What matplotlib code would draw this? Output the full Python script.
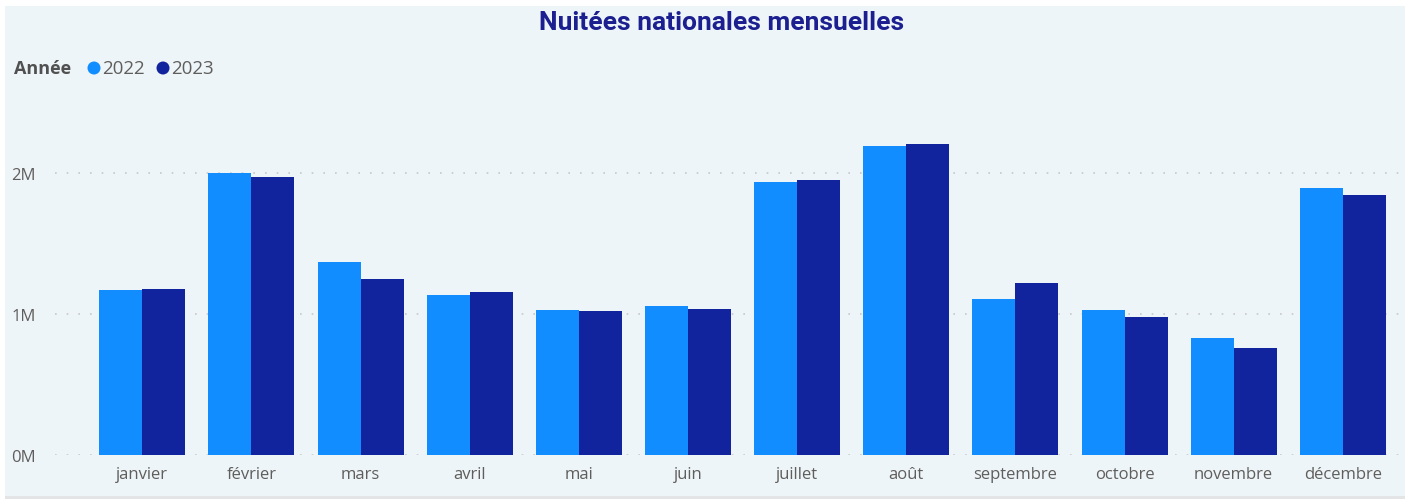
import matplotlib.pyplot as plt
import matplotlib.patches as patches
import numpy as np

mois = ['janvier', 'février', 'mars', 'avril', 'mai', 'juin', 'juillet',
        'août', 'septembre', 'octobre', 'novembre', 'décembre']
nuitees_2022 = [1.166, 2.00, 1.369, 1.133, 1.027, 1.054, 1.936, 2.190, 1.103, 1.025, 0.829, 1.887]
nuitees_2023 = [1.176, 1.965, 1.246, 1.156, 1.022, 1.033, 1.948, 2.201, 1.221, 0.980, 0.754, 1.840]
annees = ['2022', '2023']
couleurs = ['#118DFF', '#12239E']

fig = plt.figure(figsize=(14.08, 5.02), dpi=100)
fig.patch.set_facecolor('white')
fond = patches.Rectangle((5 / 1408, 5 / 502), 1400 / 1408, 490 / 502,
                         transform=fig.transFigure, facecolor='#EDF5F8',
                         edgecolor='none', zorder=-2)
fig.patches.append(fond)
ombre = patches.Rectangle((5 / 1408, 2 / 502), 1400 / 1408, 3 / 502,
                          transform=fig.transFigure, facecolor='#E2E4E6',
                          edgecolor='none', zorder=-2)
fig.patches.append(ombre)

ax = fig.add_axes([55 / 1408, 46 / 502, 1350 / 1408, 339 / 502])
ax.set_facecolor('none')

x = np.arange(len(mois))
w = 0.394
ax.bar(x - w / 2, np.array(nuitees_2022) * 1e6, w, color=couleurs[0], zorder=3)
ax.bar(x + w / 2, np.array(nuitees_2023) * 1e6, w, color=couleurs[1], zorder=3)

ax.set_xlim(-0.8, 11.57)
ax.set_ylim(0, 2.4e6)
ax.set_yticks([0, 1e6, 2e6])
ax.set_yticklabels(['0M', '1M', '2M'])
ax.set_xticks(x)
ax.set_xticklabels(mois)
ax.tick_params(axis='both', length=0, colors='#605E5C', labelsize=12)
ax.tick_params(axis='y', pad=14)
ax.tick_params(axis='x', pad=8)
for lbl in ax.get_xticklabels() + ax.get_yticklabels():
    lbl.set_fontfamily('Open Sans')
ax.grid(axis='y', color='#C8C8C8', linestyle=(0, (1, 6)), linewidth=1.2, zorder=1)
for s in ax.spines.values():
    s.set_visible(False)

fig.text(722 / 1408, 1 - 23 / 502, 'Nuitées nationales mensuelles', ha='center', va='center',
         fontsize=19, fontweight='bold', color='#1B1F8F', family='Roboto')

fig.text(14 / 1408, 1 - 69 / 502, 'Année', ha='left', va='center', fontsize=13,
         fontweight='bold', color='#505050', family='Open Sans')
for xm, xt, c, a in [(94, 102, couleurs[0], annees[0]), (163, 171, couleurs[1], annees[1])]:
    fig.patches.append(patches.Ellipse((xm / 1408, 1 - 69 / 502), 13 / 1408, 13 / 502,
                                       transform=fig.transFigure, facecolor=c, edgecolor='none'))
    fig.text(xt / 1408, 1 - 69 / 502, a, ha='left', va='center', fontsize=13.5,
             color='#605E5C', family='Open Sans')

fig.savefig('out.png', dpi=100, facecolor=fig.get_facecolor())
